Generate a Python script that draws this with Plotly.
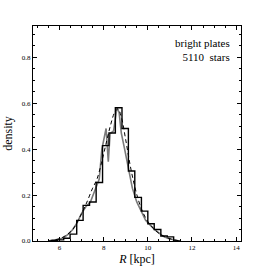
import plotly.graph_objects as go

# Histogram (bin edges and heights)
bin_edges = [5.6, 5.9, 6.19, 6.48, 6.78, 7.07, 7.36, 7.66, 7.95, 8.24, 8.53, 8.83,
             9.12, 9.41, 9.71, 10.0, 10.29, 10.59, 10.88, 11.17, 11.46]
bin_heights = [0.002, 0.005, 0.012, 0.03, 0.09, 0.155, 0.17, 0.255, 0.415, 0.47,
               0.58, 0.49, 0.305, 0.19, 0.13, 0.075, 0.05, 0.022, 0.018, 0.0]

# Fine-resolution curve (gray)
fine_x = [5.5, 5.8, 6.0, 6.2, 6.4, 6.6, 6.8, 7.0, 7.2, 7.4, 7.6, 7.8, 7.92, 8.05, 8.11,
          8.21, 8.29, 8.45, 8.6, 8.7, 8.8, 8.95, 9.1, 9.3, 9.5, 9.7, 9.9, 10.1, 10.3,
          10.5, 10.7, 10.9, 11.1, 11.4]
fine_y = [0.0, 0.003, 0.008, 0.015, 0.03, 0.05, 0.08, 0.12, 0.15, 0.17, 0.22, 0.27,
          0.40, 0.46, 0.49, 0.345, 0.467, 0.48, 0.58, 0.56, 0.47, 0.40, 0.32, 0.23,
          0.17, 0.13, 0.09, 0.07, 0.05, 0.035, 0.02, 0.012, 0.006, 0.0]

# Smooth model (dashed)
model_x = [5.5, 6.0, 6.3, 6.6, 6.9, 7.2, 7.5, 7.7, 7.9, 8.1, 8.3, 8.5, 8.65, 8.8,
           9.0, 9.2, 9.4, 9.6, 9.8, 10.0, 10.3, 10.6, 10.9, 11.2, 11.5]
model_y = [0.0, 0.01, 0.025, 0.05, 0.10, 0.16, 0.23, 0.27, 0.34, 0.42, 0.50, 0.56,
           0.575, 0.54, 0.44, 0.33, 0.24, 0.17, 0.12, 0.085, 0.05, 0.027, 0.013,
           0.005, 0.0]

x_ticks = [6, 8, 10, 12, 14]
y_ticks = [0.0, 0.2, 0.4, 0.6, 0.8]
y_tick_labels = ["0.0", "0.2", "0.4", "0.6", "0.8"]

hist_x = list(bin_edges[:len(bin_heights)]) + [bin_edges[len(bin_heights)]]
hist_y = list(bin_heights) + [bin_heights[-1]]

fig = go.Figure()
fig.add_trace(go.Scatter(x=fine_x, y=fine_y, mode="lines",
                         line=dict(color="#7a7a7a", width=1.6), hoverinfo="skip"))
fig.add_trace(go.Scatter(x=model_x, y=model_y, mode="lines",
                         line=dict(color="black", width=1, dash="4px,3px"), line_shape="spline",
                         hoverinfo="skip"))
fig.add_trace(go.Scatter(x=hist_x, y=hist_y, mode="lines", line_shape="hv",
                         line=dict(color="black", width=1.4), hoverinfo="skip"))

font_family = "Liberation Serif, DejaVu Serif, serif"

fig.add_annotation(x=0.955, y=0.96, xref="paper", yref="paper", xanchor="right",
                   yanchor="top", align="right", showarrow=False,
                   text="bright plates<br>5110  stars",
                   font=dict(family=font_family, size=11, color="black"))

axis_common = dict(showgrid=False, zeroline=False, showline=True, linecolor="black",
                   linewidth=1, mirror="ticks", ticks="inside", ticklen=4,
                   tickcolor="black", tickwidth=0.8, automargin=False,
                   tickfont=dict(family=font_family, size=7, color="black"))

fig.update_xaxes(range=[4.8, 14.22], tickvals=x_ticks,
                 minor=dict(dtick=0.5, ticks="inside", ticklen=2, tickcolor="black"),
                 title=dict(text="<i>R</i> [kpc]", standoff=3,
                            font=dict(family=font_family, size=12, color="black")),
                 **axis_common)
fig.update_yaxes(range=[0, 0.936], tickvals=y_ticks, ticktext=y_tick_labels,
                 minor=dict(dtick=0.05, ticks="inside", ticklen=2, tickcolor="black"),
                 title=dict(text="density", standoff=6,
                            font=dict(family=font_family, size=12, color="black")),
                 **axis_common)

fig.update_layout(width=268, height=268, showlegend=False,
                  margin=dict(l=33, r=27, t=26, b=27),
                  plot_bgcolor="white", paper_bgcolor="white")

fig.write_html("out.html", config={"displayModeBar": False},
               post_script="document.body.style.margin='0';document.body.style.overflow='hidden';")
